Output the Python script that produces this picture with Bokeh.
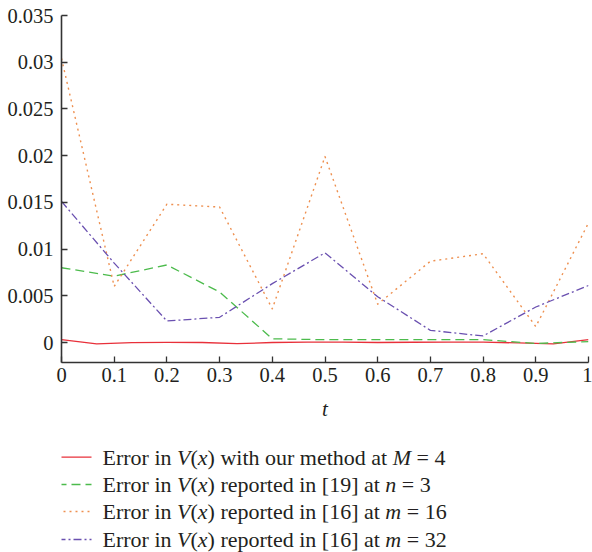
from bokeh.plotting import figure
from bokeh.layouts import column
from bokeh.models import Range1d, FixedTicker
from bokeh.embed import file_html
from bokeh.resources import INLINE
from bokeh.core.properties import value

# ---------------- data ----------------
t_coarse = [0.0, 0.1, 0.2, 0.3, 0.4, 0.5, 0.6, 0.7, 0.8, 0.9, 1.0]
t_fine = [0.0, 0.0667, 0.1333, 0.2, 0.2667, 0.3333, 0.4, 0.4667, 0.5333,
          0.6, 0.6667, 0.7333, 0.8, 0.8667, 0.9333, 1.0]

err_ours_M4 = [0.0003, -0.00015, -0.00002, 0.00002, 0.0, -0.00013, 0.0, 0.00005,
               0.00005, 0.0, 0.00003, 0.00005, 0.00005, -0.00005, -0.00015, 0.0003]
err_ref19_n3 = [0.0080, 0.0071, 0.0083, 0.0054, 0.0004, 0.0003, 0.0003, 0.0003,
                0.0003, -0.0001, 0.0001]
err_ref16_m16 = [0.0304, 0.0060, 0.0148, 0.0145, 0.0036, 0.0199, 0.0041, 0.0087,
                 0.0095, 0.0017, 0.0128]
err_ref16_m32 = [0.0151, 0.0085, 0.0023, 0.0027, 0.0063, 0.0096, 0.0049, 0.0013,
                 0.0007, 0.0038, 0.0061]

x_ticks = [0.0, 0.1, 0.2, 0.3, 0.4, 0.5, 0.6, 0.7, 0.8, 0.9, 1.0]
x_tick_labels = ["0", "0.1", "0.2", "0.3", "0.4", "0.5", "0.6", "0.7", "0.8", "0.9", "1"]
y_ticks = [0.0, 0.005, 0.01, 0.015, 0.02, 0.025, 0.03, 0.035]
y_tick_labels = ["0", "0.005", "0.01", "0.015", "0.02", "0.025", "0.03", "0.035"]

x_label = "t"

# legend rows: (text, italic?) segments
legend_rows = [
    [("Error in ", False), ("V", True), ("(", False), ("x", True),
     (") with our method at ", False), ("M", True), (" = 4", False)],
    [("Error in ", False), ("V", True), ("(", False), ("x", True),
     (") reported in [19] at ", False), ("n", True), (" = 3", False)],
    [("Error in ", False), ("V", True), ("(", False), ("x", True),
     (") reported in [16] at ", False), ("m", True), (" = 16", False)],
    [("Error in ", False), ("V", True), ("(", False), ("x", True),
     (") reported in [16] at ", False), ("m", True), (" = 32", False)],
]

# ---------------- styles ----------------
FONT = "Liberation Serif"
TEXT_COLOR = "#231f20"
AXIS_COLOR = "#333333"
styles = [
    dict(color="#e8303a", line_width=1.3, line_dash="solid"),
    dict(color="#4cbb4c", line_width=1.3, line_dash="9 5"),
    dict(color="#ee9050", line_width=1.4, line_dash="2 4"),
    dict(color="#6a50b0", line_width=1.3, line_dash="8 3 2 3"),
]

BORDER_L, BORDER_R = 61, 4
W = 592

# ---------------- main plot ----------------
p = figure(width=W, height=430, x_range=Range1d(0, 1), y_range=Range1d(-0.00214, 0.035),
           output_backend="svg", toolbar_location=None,
           min_border_left=BORDER_L, min_border_right=BORDER_R, min_border_top=15, min_border_bottom=68)
p.xgrid.visible = False
p.ygrid.visible = False
p.outline_line_color = None
p.background_fill_color = "white"
p.border_fill_color = "white"

for ax in (p.xaxis[0], p.yaxis[0]):
    ax.axis_line_color = AXIS_COLOR
    ax.axis_line_width = 1.6
    ax.major_tick_line_color = AXIS_COLOR
    ax.major_tick_line_width = 1.3
    ax.major_tick_in = 6
    ax.major_tick_out = 0
    ax.minor_tick_line_color = None
    ax.major_label_text_font = FONT
    ax.major_label_text_font_size = "20.5px"
    ax.major_label_text_color = TEXT_COLOR

p.xaxis.ticker = FixedTicker(ticks=x_ticks)
p.xaxis.major_label_overrides = dict(zip(x_ticks, x_tick_labels))
p.yaxis.ticker = FixedTicker(ticks=y_ticks)
p.yaxis.major_label_overrides = dict(zip(y_ticks, y_tick_labels))
p.yaxis.major_label_standoff = 8
p.xaxis.major_label_standoff = 5

p.xaxis.axis_label = x_label
p.xaxis.axis_label_text_font = FONT
p.xaxis.axis_label_text_font_style = "italic"
p.xaxis.axis_label_text_font_size = "21px"
p.xaxis.axis_label_text_color = TEXT_COLOR
p.xaxis.axis_label_standoff = 12

series = [(t_fine, err_ours_M4), (t_coarse, err_ref19_n3),
          (t_coarse, err_ref16_m16), (t_coarse, err_ref16_m32)]
for (xs, ys), st in zip(series, styles):
    p.line(xs, ys, line_color=st["color"], line_width=st["line_width"],
           line_dash=st["line_dash"], line_cap="butt", line_join="round")

# ---------------- legend (separate panel below, frame aligned with main frame) ----------------
LEG_H = 122
lg = figure(width=W, height=LEG_H, x_range=Range1d(BORDER_L, W - BORDER_R), y_range=Range1d(LEG_H, 0),
            output_backend="svg", toolbar_location=None,
            x_axis_type=None, y_axis_type=None,
            min_border_left=BORDER_L, min_border_right=BORDER_R, min_border_top=0, min_border_bottom=0)
lg.grid.visible = False
lg.outline_line_color = None
lg.background_fill_color = "white"
lg.border_fill_color = "white"

# Times / Liberation Serif advance widths (per 1000 em)
W_REG = {" ": 250, "(": 333, ")": 333, "[": 333, "]": 333, "=": 564,
         "0": 500, "1": 500, "2": 500, "3": 500, "4": 500, "5": 500, "6": 500,
         "7": 500, "8": 500, "9": 500, "E": 611, "a": 444, "d": 500, "e": 444,
         "h": 500, "i": 278, "m": 778, "n": 500, "o": 500, "p": 500, "r": 333,
         "t": 278, "u": 500, "w": 722}
W_IT = {"V": 611, "x": 444, "M": 833, "n": 500, "m": 722}
FS = 22

def seg_width(s, italic):
    tbl = W_IT if italic else W_REG
    return sum(tbl.get(c, 500) for c in s) * FS / 1000.0

line_y = [26.7, 54.0, 81.0, 109.0]
text_y = [26.7, 54.0, 81.0, 108.5]
x_line0, x_line1, x_text = 57, 91, 102

for row, st, ly, ty in zip(legend_rows, styles, line_y, text_y):
    lg.line([x_line0, x_line1], [ly, ly], line_color=st["color"], line_width=st["line_width"],
            line_dash=st["line_dash"], line_cap="butt")
    xr, tr, xi, ti = [], [], [], []
    cx = x_text
    for s, it in row:
        lead = len(s) - len(s.lstrip(" "))
        sx = cx + seg_width(" " * lead, it)
        if it:
            xi.append(sx); ti.append(s.strip())
        else:
            xr.append(sx); tr.append(s.strip())
        cx += seg_width(s, it)
    lg.text(x=xr, y=[ty] * len(xr), text=tr, text_font=value(FONT), text_font_size=f"{FS}px",
            text_color=TEXT_COLOR, text_baseline="middle", text_align="left")
    lg.text(x=xi, y=[ty] * len(xi), text=ti, text_font=value(FONT), text_font_size=f"{FS}px",
            text_font_style="italic",
            text_color=TEXT_COLOR, text_baseline="middle", text_align="left")

layout = column(p, lg, spacing=0)
open("out.html", "w").write(file_html(layout, INLINE))
